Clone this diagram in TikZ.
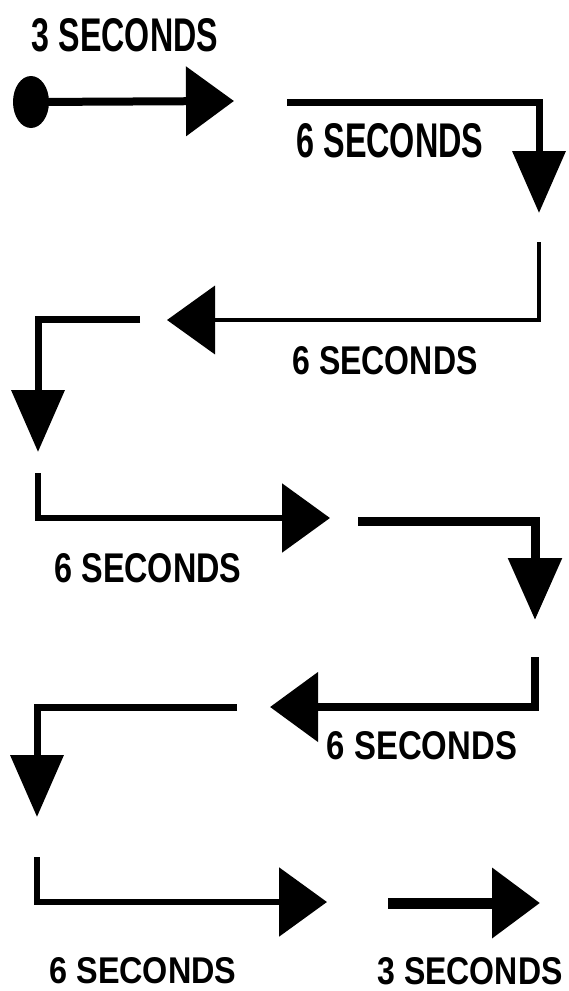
\documentclass[tikz,border=0pt]{standalone}
\usepackage{graphicx}
\usepackage{fontspec}
\setmainfont{Liberation Sans}
\usetikzlibrary{arrows.meta,shapes.geometric}
\begin{document}
\begin{tikzpicture}[x=1pt,y=-1pt,
  flow/.style={draw=black, line join=miter, line cap=butt},
  hh/.style={-{Triangle[length=48pt,width=68pt]}},
  vh/.style={-{Triangle[length=62pt,width=52pt]}},
  lbl/.style={inner sep=0pt, outer sep=0pt, font=\bfseries}
]
\useasboundingbox (0,0) rectangle (569,991);

% labels
\node[lbl] (t1) at (125,35) {\resizebox{186pt}{33pt}{3 SECONDS}};
\node[lbl] (t2) at (390,141) {\resizebox{187pt}{34pt}{6 SECONDS}};
\node[lbl] (t3) at (385,361) {\resizebox{185pt}{28pt}{6 SECONDS}};
\node[lbl] (t4) at (148,568) {\resizebox{187pt}{29pt}{6 SECONDS}};
\node[lbl] (t5) at (422,746) {\resizebox{190pt}{28pt}{6 SECONDS}};
\node[lbl] (t6) at (143,971) {\resizebox{187pt}{26pt}{6 SECONDS}};
\node[lbl] (t7) at (470,971) {\resizebox{185pt}{27pt}{3 SECONDS}};

% start dot
\node[ellipse, fill=black, minimum width=36pt, minimum height=52pt, inner sep=0pt] (start) at (31,102) {};

% coordinates
\coordinate (e1) at (234,101);
\coordinate (a2) at (287,102); \coordinate (c2) at (539,102); \coordinate (e2) at (539,213);
\coordinate (a3) at (539,242); \coordinate (c3) at (539,320); \coordinate (e3) at (167,320);
\coordinate (a4) at (140,319); \coordinate (c4) at (38,319);  \coordinate (e4) at (38,452);
\coordinate (a5) at (38,473);  \coordinate (c5) at (38,518);  \coordinate (e5) at (330,518);
\coordinate (a6) at (358,521); \coordinate (c6) at (535,521); \coordinate (e6) at (535,620);
\coordinate (a7) at (535,657); \coordinate (c7) at (535,707); \coordinate (e7) at (270,707);
\coordinate (a8) at (237,707); \coordinate (c8) at (37,707);  \coordinate (e8) at (37,817);
\coordinate (a9) at (37,857);  \coordinate (c9) at (37,902);  \coordinate (e9) at (327,902);
\coordinate (a10) at (388,903); \coordinate (e10) at (540,903);

% connectors
\draw[flow, line width=8pt, hh] (start.center) -- (e1);
\draw[flow, line width=7pt, vh] (a2) -- (c2) -- (e2);
\draw[flow, line width=4pt, hh] (a3) -- (c3) -- (e3);
\draw[flow, line width=7pt, vh] (a4) -- (c4) -- (e4);
\draw[flow, line width=6pt, hh] (a5) -- (c5) -- (e5);
\draw[flow, line width=9pt, vh] (a6) -- (c6) -- (e6);
\draw[flow, line width=8pt, hh] (a7) -- (c7) -- (e7);
\draw[flow, line width=7pt, vh] (a8) -- (c8) -- (e8);
\draw[flow, line width=6pt, hh] (a9) -- (c9) -- (e9);
\draw[flow, line width=11pt, hh] (a10) -- (e10);
\end{tikzpicture}
\end{document}
